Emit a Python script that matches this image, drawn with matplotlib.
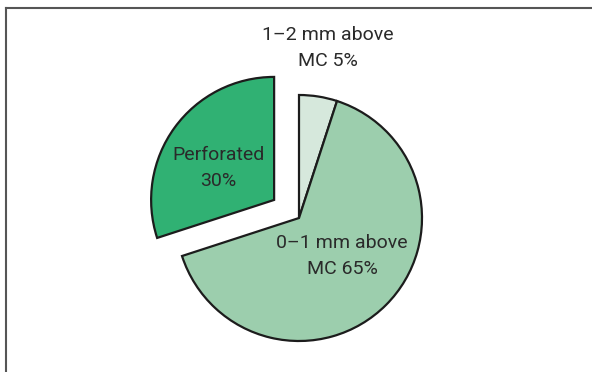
import matplotlib
matplotlib.use("Agg")
import matplotlib.pyplot as plt
from matplotlib.lines import Line2D

categories = ["1\u20132 mm above\nMC 5%", "0\u20131 mm above\nMC 65%", "Perforated\n30%"]
values = [5, 65, 30]
colors = ["#d6e8dc", "#9ccead", "#30b173"]
explode = [0, 0, 0.25]

W, H = 592, 372
CX, CY, R = 299, 218, 123

fig = plt.figure(figsize=(W / 100, H / 100), dpi=100)
ax = fig.add_axes([0, 0, 1, 1])

ax.pie(values, colors=colors, startangle=90, counterclock=False, explode=explode,
       radius=1, center=(0, 0), frame=True,
       wedgeprops=dict(edgecolor="#1c1c1c", linewidth=1.6))
ax.set_xlim(-CX / R, (W - CX) / R)
ax.set_ylim(-(H - CY) / R, CY / R)
ax.set_aspect("auto")
ax.axis("off")

def px(x, y):
    return (x - CX) / R, (CY - y) / R

label_pos = [(328, 48), (342, 256), (218, 168)]
for lab, (x, y) in zip(categories, label_pos):
    ax.text(*px(x, y), lab, ha="center", va="center", fontsize=14,
            family="Roboto", color="#2a2a2a", linespacing=1.5)

fig.add_artist(Line2D([6 / W, 1], [1 - 8 / H, 1 - 8 / H], color="#555555", lw=1.5,
                      transform=fig.transFigure))
fig.add_artist(Line2D([6 / W, 6 / W], [0, 1 - 8 / H], color="#555555", lw=1.5,
                      transform=fig.transFigure))

fig.savefig("out.png", dpi=100)
